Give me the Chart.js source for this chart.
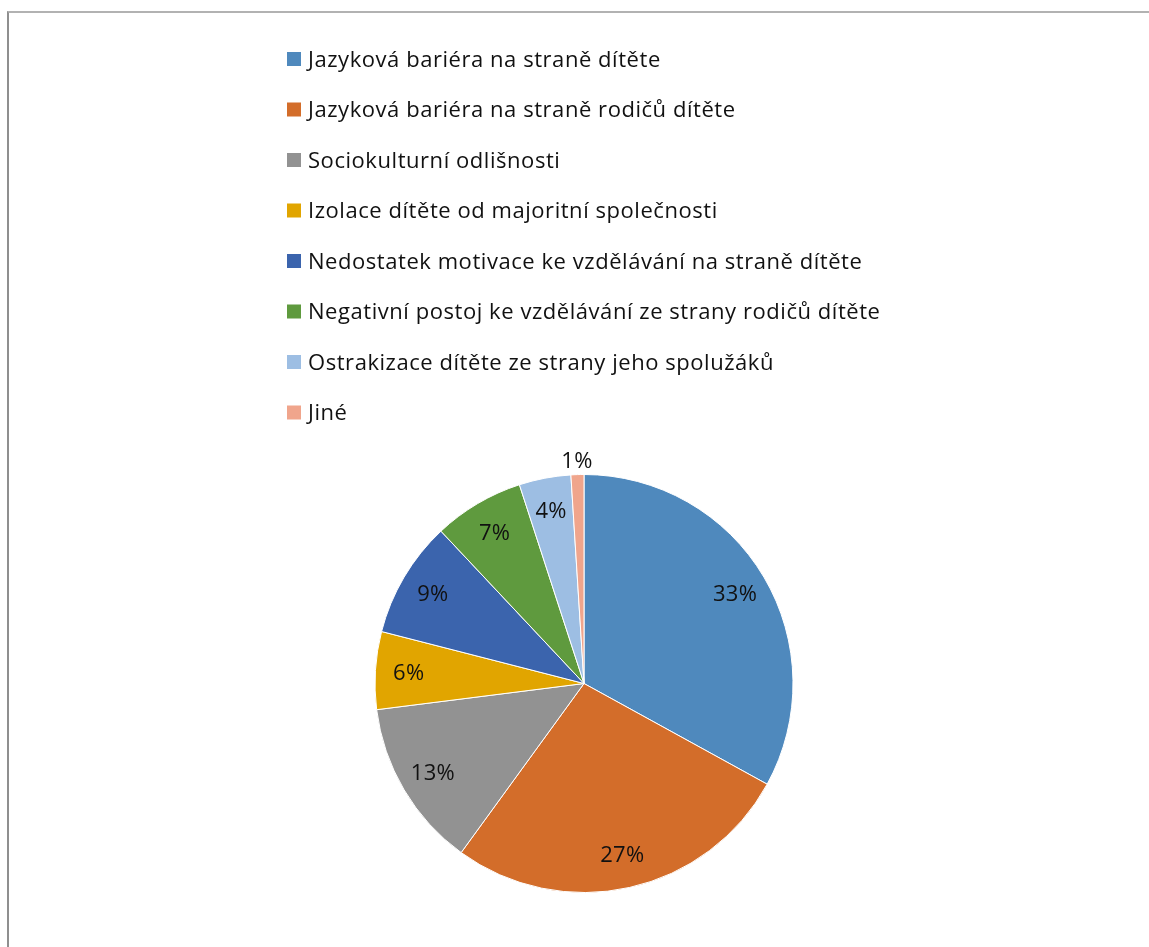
<!DOCTYPE html>
<html>
<head>
<meta charset="utf-8">
<script src="https://cdn.jsdelivr.net/npm/chart.js@4/dist/chart.umd.min.js"></script>
<style>
  html, body { margin: 0; padding: 0; background: #fff; overflow: hidden; }
  #frame {
    position: absolute; left: 7px; top: 11px; width: 1160px; height: 960px;
    border-left: 2px solid #8f8f8f; border-top: 2px solid #b2b2b2;
    box-sizing: border-box;
  }
  #wrap { position: absolute; left: 0; top: 0; width: 1149px; height: 947px; }
</style>
</head>
<body>
<div id="frame"></div>
<div id="wrap"><canvas id="c" width="1149" height="947"></canvas></div>
<script>
// Reasons given for the difficulties in educating the child (share of answers, %)
const categories = [
  'Jazyková bariéra na straně dítěte',
  'Jazyková bariéra na straně rodičů dítěte',
  'Sociokulturní odlišnosti',
  'Izolace dítěte od majoritní společnosti',
  'Nedostatek motivace ke vzdělávání na straně dítěte',
  'Negativní postoj ke vzdělávání ze strany rodičů dítěte',
  'Ostrakizace dítěte ze strany jeho spolužáků',
  'Jiné'
];
const shares = [33, 27, 13, 6, 9, 7, 4, 1];
const sliceColors = ['#4F89BD', '#D36D2A', '#929292', '#E1A500', '#3B64AD', '#5F9A3E', '#9DBEE3', '#F0A58C'];

const FONT = '"Open Sans", Lato, sans-serif';

// Vertical legend list above the pie
const listLegend = {
  id: 'listLegend',
  afterDraw(chart) {
    const ctx = chart.ctx;
    const labels = chart.data.labels;
    const colors = chart.data.datasets[0].backgroundColor;
    ctx.save();
    ctx.font = '22px ' + FONT;
    ctx.letterSpacing = '0.55px';
    ctx.textBaseline = 'middle';
    ctx.textAlign = 'left';
    labels.forEach((txt, i) => {
      const y = 59 + i * 50.5;
      ctx.fillStyle = colors[i];
      ctx.fillRect(287, y - 7, 14, 14);
      ctx.fillStyle = '#111';
      ctx.fillText(txt, 308, y + 1.5);
    });
    ctx.restore();
  }
};

// Percentage labels: inside the slice, or just outside for very thin slices
const sliceLabels = {
  id: 'sliceLabels',
  afterDatasetsDraw(chart) {
    const ctx = chart.ctx;
    const meta = chart.getDatasetMeta(0);
    const data = chart.data.datasets[0].data;
    ctx.save();
    ctx.font = '22px ' + FONT;
    ctx.letterSpacing = '0.3px';
    ctx.fillStyle = '#111';
    ctx.textAlign = 'center';
    ctx.textBaseline = 'middle';
    meta.data.forEach((arc, i) => {
      const p = arc.getProps(['x', 'y', 'startAngle', 'endAngle', 'outerRadius'], true);
      const mid = (p.startAngle + p.endAngle) / 2;
      const r = data[i] < 2 ? p.outerRadius + 14 : p.outerRadius * 0.84;
      ctx.fillText(data[i] + '%', p.x + Math.cos(mid) * r, p.y + Math.sin(mid) * r + 1);
    });
    ctx.restore();
  }
};

new Chart(document.getElementById('c'), {
  type: 'pie',
  data: {
    labels: categories,
    datasets: [{
      data: shares,
      backgroundColor: sliceColors,
      borderColor: '#ffffff',
      borderWidth: 1,
      hoverOffset: 0
    }]
  },
  options: {
    responsive: false,
    animation: false,
    layout: { padding: { top: 474, bottom: 54, left: 30, right: 11 } },
    plugins: {
      legend: { display: false },
      tooltip: { enabled: false }
    }
  },
  plugins: [listLegend, sliceLabels]
});
</script>
</body>
</html>
